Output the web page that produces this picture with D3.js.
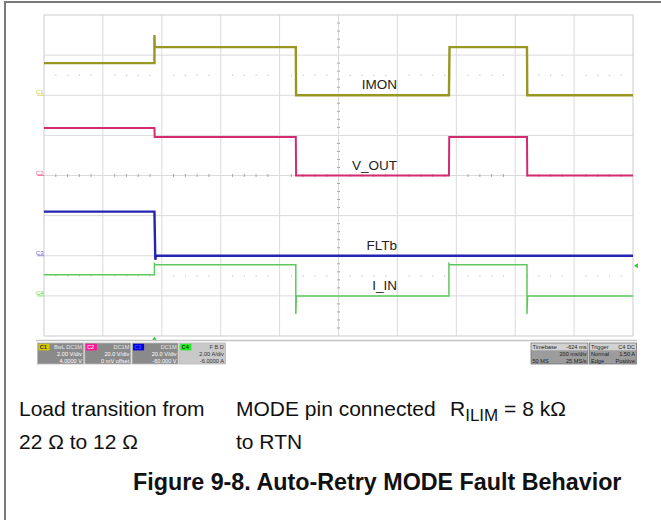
<!DOCTYPE html>
<html>
<head>
<meta charset="utf-8">
<script src="https://cdn.jsdelivr.net/npm/d3@7"></script>
<style>
  body { margin: 0; background: #fff; }
  svg { display: block; font-family: "Liberation Sans", Arial, sans-serif; }
</style>
</head>
<body>
<script>
// ---- data (time in ms from trigger) ----
var chNames   = ["C1", "C2", "C3", "C4"];
var chLabels  = ["IMON", "V_OUT", "FLTb", "I_IN"];
var chPerDiv  = [2, 20, 20, 2];        // units per division
var chGround  = [2, 0, -2, -3];        // ground marker, divisions from centre
var chColors  = ["#979722", "#d42a70", "#2424b0", "#5cc95c"];
var chMarkCol = ["#c9c940", "#ee5c9c", "#6a6ae0", "#55dd55"];
var chWidths  = [2.4, 2, 2.4, 1.5];

var imonData = [[-375, 1.6], [0, 1.6], [0, 3.0], [1, 2.4], [480, 2.4], [481, 0], [1000, 0], [1002, 2.4], [1265, 2.4], [1266, 0], [1625, 0]];
var voutData = [[-375, 23.7], [0, 23.7], [1, 19.2], [480, 19.2], [481, 0], [1000, 0], [1001, 19.2], [1265, 19.2], [1266, 0], [1625, 0]];
var fltbData = [[-375, 22], [0, 22], [3, -2], [5, 0], [1625, 0]];
var iinData  = [[-375, 1.05], [0, 1.05], [0, 1.6], [3, 1.55], [480, 1.55], [480, -0.9], [482, 0], [1000, 0], [1000, 1.6], [1003, 1.55], [1265, 1.55], [1265, -0.9], [1267, 0], [1625, 0]];
var traces = [imonData, voutData, fltbData, iinData];

var trigLevel = 1.5;   // A on C4

// status bar texts
var boxTitles   = ["C1", "C2", "C3", "C4"];
var boxCoupling = ["BwL DC1M", "DC1M", "DC1M", "F B D"];
var boxScale    = ["2.00 V/div", "20.0 V/div", "20.0 V/div", "2.00 A/div"];
var boxOffset   = ["4.0000 V", "0 mV offset", "-60.000 V", "-6.0000 A"];
var tbRows   = [["Timebase", "-624 ms"], ["", "200 ms/div"], ["50 MS", "25 MS/s"]];
var trigRows = [["Trigger", "C4 DC"], ["Normal", "1.50 A"], ["Edge", "Positive"]];

var width = 661, height = 520;

var svg = d3.select("body").append("svg")
  .attr("width", width)
  .attr("height", height);

// outer frame (only left & top visible)
svg.append("line").attr("x1", 5).attr("x2", 5).attr("y1", 2).attr("y2", height)
  .attr("stroke", "#7a7a7a").attr("stroke-width", 2);
svg.append("line").attr("x1", 4).attr("x2", width).attr("y1", 2).attr("y2", 2)
  .attr("stroke", "#7a7a7a").attr("stroke-width", 2);

// scales
var x = d3.scaleLinear().domain([-375, 1625]).range([44, 633]);
var gx = d3.scaleLinear().domain([0, 10]).range([44, 633]);
var y = d3.scaleLinear().domain([-4, 4]).range([336, 15]);

// grid
var grid = svg.append("g");
grid.selectAll(".vg").data(d3.range(1, 10)).enter().append("line")
  .attr("x1", function (d) { return gx(d); }).attr("x2", function (d) { return gx(d); })
  .attr("y1", y(4)).attr("y2", y(-4))
  .attr("stroke", "#dadada");
grid.selectAll(".hg").data(d3.range(-3, 4)).enter().append("line")
  .attr("x1", gx(0)).attr("x2", gx(10))
  .attr("y1", function (d) { return y(d); }).attr("y2", function (d) { return y(d); })
  .attr("stroke", "#dadada");

// minor ticks on centre lines
var subX = d3.range(0, 50).filter(function (i) { return i % 5 != 0; });
grid.selectAll(".tx").data(subX).enter().append("line")
  .attr("x1", function (d) { return gx(d / 5); }).attr("x2", function (d) { return gx(d / 5); })
  .attr("y1", y(0) - 1.5).attr("y2", y(0) + 1.5)
  .attr("stroke", "#a8a8a8");
var subY = d3.range(-20, 20).filter(function (i) { return i % 5 != 0; });
grid.selectAll(".ty").data(subY).enter().append("line")
  .attr("x1", gx(5) - 1.5).attr("x2", gx(5) + 1.5)
  .attr("y1", function (d) { return y(d / 5); }).attr("y2", function (d) { return y(d / 5); })
  .attr("stroke", "#a8a8a8");

// faint dotted rows at +/-2.5 div
[2.5, -2.5].forEach(function (lv) {
  grid.selectAll(null).data(subX).enter().append("rect")
    .attr("x", function (d) { return gx(d / 5) - 0.5; })
    .attr("y", y(lv) - 0.5)
    .attr("width", 1.2).attr("height", 1.2)
    .attr("fill", "#c4c4c4");
});

// plot border
svg.append("rect").attr("x", 44).attr("y", 15).attr("width", 589).attr("height", 321)
  .attr("fill", "none").attr("stroke", "#cbcbcb");

// traces
var line = d3.line()
  .x(function (d) { return x(d[0]); });

traces.forEach(function (data, i) {
  line.y(function (d) { return y(chGround[i] + d[1] / chPerDiv[i]); });
  svg.append("path")
    .datum(data)
    .attr("class", "trace " + chNames[i])
    .attr("d", line)
    .attr("fill", "none")
    .attr("stroke", chColors[i])
    .attr("stroke-width", chWidths[i]);
});

// channel ground markers
chNames.forEach(function (n, i) {
  var gy = y(chGround[i]);
  svg.append("text").attr("x", 43.5).attr("y", gy - 0.8)
    .attr("text-anchor", "end").attr("font-size", 6)
    .attr("fill", chMarkCol[i]).text(n);
  svg.append("line").attr("x1", 37.5).attr("x2", 44).attr("y1", gy).attr("y2", gy)
    .attr("stroke", chMarkCol[i]).attr("stroke-width", 0.8);
});

// trace labels
chLabels.forEach(function (l, i) {
  svg.append("text")
    .attr("x", x(824)).attr("y", y(chGround[i]) - 6)
    .attr("text-anchor", "end")
    .attr("font-size", 13.5)
    .attr("fill", "#222")
    .text(l);
});

// trigger markers
var trigY = y(chGround[3] + trigLevel / chPerDiv[3]);
svg.append("path")
  .attr("d", "M" + (x(1625) + 1) + "," + trigY + "l4,-2.5l0,5z")
  .attr("fill", "#33cc33");
svg.append("path")
  .attr("d", "M" + x(0) + "," + (y(-4) + 0.5) + "l-2.5,4l5,0z")
  .attr("fill", "#33cc33");

// status strip
svg.append("line").attr("x1", 36).attr("x2", 637).attr("y1", 340.5).attr("y2", 340.5)
  .attr("stroke", "#c4c4c4").attr("stroke-width", 1.5);

var tagFill = ["#d8c800", "#ff1493", "#0000e0", "#22ee22"];
var tagText = ["#333", "#ffd0e8", "#4848ff", "#114411"];
boxTitles.forEach(function (t, i) {
  var bx = 37.5 + i * 47.3, by = 343, bw = 46, bh = 21;
  var light = (i == 3);
  var g = svg.append("g").attr("font-size", 5.6);
  g.append("rect").attr("x", bx).attr("y", by).attr("width", bw).attr("height", bh)
    .attr("fill", light ? "#c9c9c9" : "#8a8a8a").attr("stroke", "#b8b8b8").attr("stroke-width", 0.8);
  g.append("rect").attr("x", bx + 1).attr("y", by + 0.8).attr("width", 11).attr("height", 6.6)
    .attr("fill", tagFill[i]);
  g.append("text").attr("x", bx + 2.2).attr("y", by + 6.4).attr("font-weight", "bold")
    .attr("fill", tagText[i]).text(t);
  g.append("text").attr("x", bx + bw - 1.5).attr("y", by + 6.3).attr("text-anchor", "end")
    .attr("fill", light ? "#444" : "#e6e6e6").text(boxCoupling[i]);
  g.append("text").attr("x", bx + bw - 1.5).attr("y", by + 13.2).attr("text-anchor", "end")
    .attr("fill", light ? "#333" : "#fff").text(boxScale[i]);
  g.append("text").attr("x", bx + bw - 1.5).attr("y", by + 19.6).attr("text-anchor", "end")
    .attr("fill", light ? "#333" : "#fff").text(boxOffset[i]);
});

function infoBox(bx, bw, rows) {
  var by = 343, bh = 21;
  var g = svg.append("g").attr("font-size", 5.6).attr("fill", "#222");
  g.append("rect").attr("x", bx).attr("y", by).attr("width", bw).attr("height", bh)
    .attr("fill", "#9c9c9c").attr("stroke", "#777").attr("stroke-width", 0.8);
  g.append("rect").attr("x", bx + 0.5).attr("y", by + 0.5).attr("width", bw - 1).attr("height", 6.8)
    .attr("fill", "#d2d2d2");
  rows.forEach(function (r, k) {
    var ty = by + 6.3 + k * 6.7;
    g.append("text").attr("x", bx + 1.5).attr("y", ty).text(r[0]);
    g.append("text").attr("x", bx + bw - 1.5).attr("y", ty).attr("text-anchor", "end").text(r[1]);
  });
}
infoBox(531, 57, tbRows);
infoBox(589.5, 47, trigRows);

// notes under the screenshot
var notes = svg.append("g").attr("font-size", 21).attr("fill", "#111");
notes.append("text").attr("x", 19).attr("y", 416).text("Load transition from");
notes.append("text").attr("x", 19).attr("y", 449).text("22 Ω to 12 Ω");
notes.append("text").attr("x", 236).attr("y", 416).text("MODE pin connected");
notes.append("text").attr("x", 236).attr("y", 449).text("to RTN");
var r = notes.append("text").attr("x", 450).attr("y", 416);
r.append("tspan").text("R");
r.append("tspan").attr("font-size", 17).attr("dy", 5).text("ILIM");
r.append("tspan").attr("dy", -5).text(" = 8 kΩ");

svg.append("text")
  .attr("x", 133).attr("y", 490)
  .attr("font-size", 23.3).attr("font-weight", "bold").attr("fill", "#111")
  .text("Figure 9-8. Auto-Retry MODE Fault Behavior");
</script>
</body>
</html>
